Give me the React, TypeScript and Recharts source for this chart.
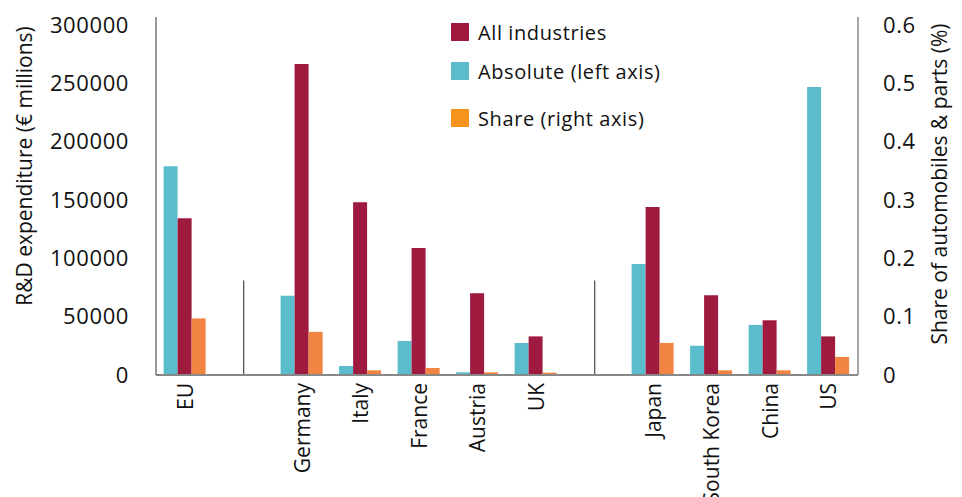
import React from 'react'
import {
  BarChart, Bar, XAxis, YAxis, ReferenceLine, Legend,
} from 'recharts'

// blank entries are the spacer slots between the country groups
const categories = ['EU', ' ', 'Germany', 'Italy', 'France', 'Austria', 'UK', '  ', 'Japan', 'South Korea', 'China', 'US']
const absolute = [179000, null, 68000, 7700, 29100, 2300, 27400, null, 95100, 25100, 42900, 246900]
const allIndustries = [134300, null, 266600, 148000, 108900, 70000, 33100, null, 144000, 68300, 46900, 33100]
const share = [0.097, null, 0.074, 0.008, 0.012, 0.0046, 0.004, null, 0.055, 0.008, 0.008, 0.031]

const leftTicks = [0, 50000, 100000, 150000, 200000, 250000, 300000]
const rightTicks = [0, 0.1, 0.2, 0.3, 0.4, 0.5, 0.6]
const separators = [' ', '  ']
const separatorTop = 81000

const FONT = '"Open Sans", sans-serif'
const C_ABS = '#5BBCCB'
const C_ALL = '#9E1A3F'
const C_SHARE = '#F08440'

const legendItems = [
  { label: 'All industries', color: C_ALL, gap: 0 },
  { label: 'Absolute (left axis)', color: C_ABS, gap: 13 },
  { label: 'Share (right axis)', color: '#F7941D', gap: 21 },
]

const data = categories.map((name, i) => ({
  name,
  absolute: absolute[i],
  allIndustries: allIndustries[i],
  share: share[i],
}))

function XTick({ x, y, payload }: any) {
  return (
    <text x={x} y={y} transform={`rotate(-90, ${x}, ${y})`} textAnchor="end" dy="0.35em"
      style={{ fontSize: 21, fontFamily: FONT, fill: '#111' }}>
      {payload.value}
    </text>
  )
}

function LegendBox() {
  return (
    <div style={{ fontFamily: FONT, fontSize: 20, letterSpacing: 0.6, color: '#111' }}>
      {legendItems.map((it) => (
        <div key={it.label} style={{ display: 'flex', alignItems: 'center', height: 26, marginTop: it.gap }}>
          <span style={{ width: 18, height: 18, background: it.color, display: 'inline-block', marginRight: 9 }} />
          <span>{it.label}</span>
        </div>
      ))}
    </div>
  )
}

export default function App() {
  const tickStyle = { fontSize: 22, letterSpacing: 0.6, fontFamily: FONT, fill: '#111' }
  return (
    <div style={{ position: 'absolute', left: 0, top: 0, background: '#fff' }}>
      <BarChart width={962} height={497} data={data}
        margin={{ top: 17, right: 0, left: 0, bottom: 0 }}
        barCategoryGap="13%" barGap={0}>
        <XAxis dataKey="name" height={122} interval={0} tickLine={false}
          axisLine={{ stroke: '#888', strokeWidth: 2 }} tick={<XTick />} />
        <YAxis yAxisId="left" orientation="left" width={156} domain={[0, 306857]} ticks={leftTicks}
          allowDataOverflow tickLine={false} tickSize={0} tickMargin={27}
          axisLine={{ stroke: '#333' }} tick={tickStyle}
          label={() => (
            <text x={25} y={166} transform="rotate(-90, 25, 166)" textAnchor="middle" dy="0.35em"
              style={{ fontSize: 21, fontFamily: FONT, fill: '#111' }}>
              R&amp;D expenditure (€ millions)
            </text>
          )} />
        <YAxis yAxisId="right" orientation="right" width={104} domain={[0, 0.61371]} ticks={rightTicks}
          allowDataOverflow tickLine={false} tickSize={0} tickMargin={25}
          axisLine={{ stroke: '#888', strokeWidth: 1.5 }} tick={tickStyle}
          label={() => (
            <text x={940} y={184} transform="rotate(-90, 940, 184)" textAnchor="middle" dy="0.35em"
              style={{ fontSize: 21, fontFamily: FONT, fill: '#111' }}>
              Share of automobiles &amp; parts (%)
            </text>
          )} />
        {separators.map((s) => (
          <ReferenceLine key={s} yAxisId="left" stroke="#222" strokeWidth={1}
            segment={[{ x: s, y: 0 }, { x: s, y: separatorTop }]} />
        ))}
        <Legend content={<LegendBox />} layout="vertical" verticalAlign="middle" align="center"
          wrapperStyle={{ position: 'absolute', left: 451, top: 19, width: 260 }} />
        <Bar yAxisId="left" dataKey="absolute" fill={C_ABS} isAnimationActive={false} />
        <Bar yAxisId="left" dataKey="allIndustries" fill={C_ALL} isAnimationActive={false} />
        <Bar yAxisId="right" dataKey="share" fill={C_SHARE} isAnimationActive={false} />
      </BarChart>
    </div>
  )
}
